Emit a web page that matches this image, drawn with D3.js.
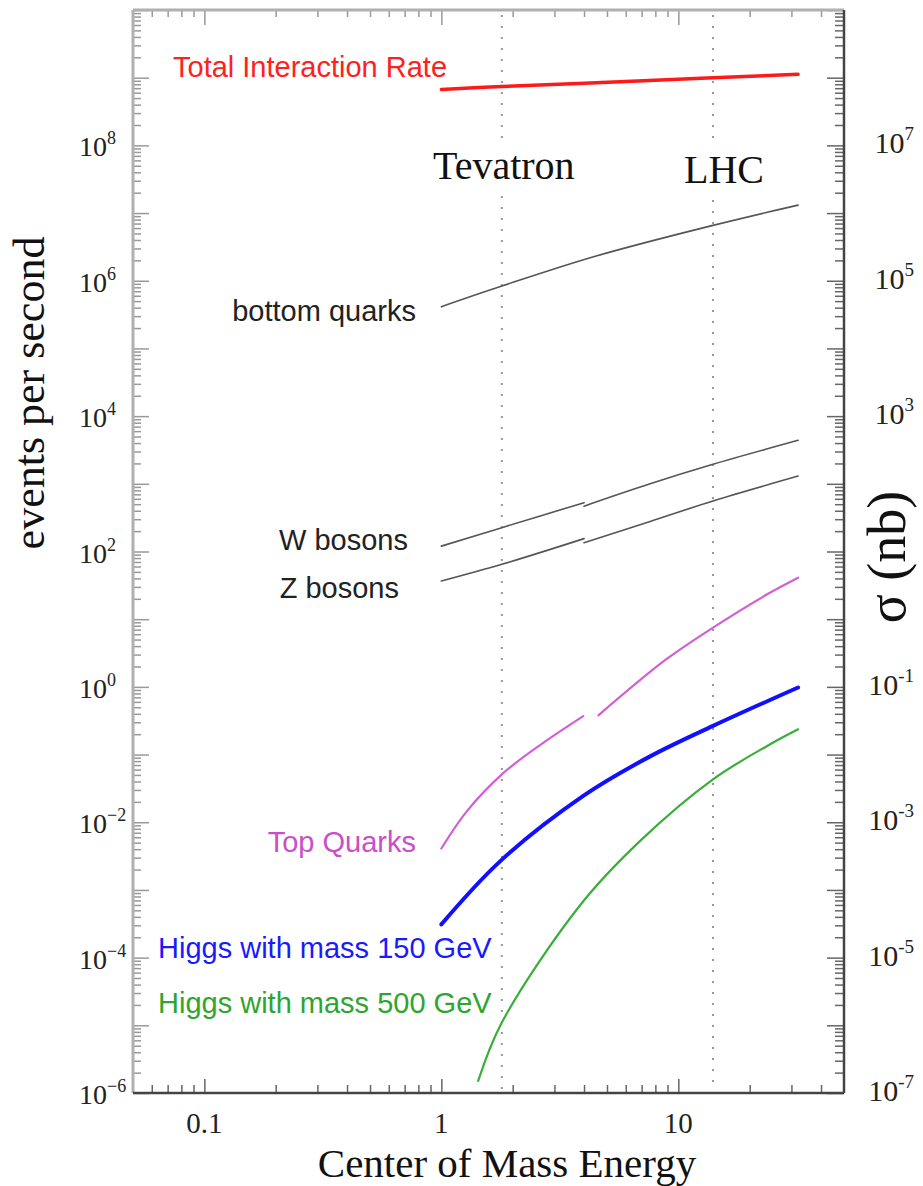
<!DOCTYPE html>
<html>
<head>
<meta charset="utf-8">
<script src="https://cdn.jsdelivr.net/npm/d3@7"></script>
<style>
  body { margin: 0; background: #fff; }
  svg { display: block; }
  .serif { font-family: "Liberation Serif", "Times New Roman", serif; }
  .sans { font-family: "Liberation Sans", Arial, sans-serif; }
</style>
</head>
<body>
<svg id="chart" width="923" height="1186"></svg>
<script>
'use strict';

// energies in TeV, rates in events per second
const totalE = [1, 1.8, 4, 14, 32];
const totalRate = [6.7e8, 7.4e8, 8.3e8, 1.0e9, 1.12e9];

const bottomE = [1, 1.8, 4.5, 14, 32];
const bottomRate = [4.14e5, 8.35e5, 2.32e6, 6.58e6, 1.31e7];

const wLowE = [1, 1.8, 4];
const wLowRate = [120, 225, 527];
const wHighE = [4, 7.6, 14, 32];
const wHighRate = [468, 1000, 1940, 4390];

const zLowE = [1, 1.8, 4];
const zLowRate = [36.6, 64.7, 155];
const zHighE = [4, 7.6, 14, 32];
const zHighRate = [135, 278, 557, 1300];

const topLowE = [1, 1.28, 1.8, 2.6, 3.97];
const topLowRate = [4.1e-3, 0.0145, 0.051, 0.137, 0.37];
const topHighE = [4.6, 8.9, 14, 23.7, 32];
const topHighRate = [0.38, 2.56, 7.5, 23.3, 41];

const higgs150E = [1, 1.76, 3.97, 7.6, 14, 32];
const higgs150Rate = [3.1e-4, 2.6e-3, 0.0245, 0.094, 0.265, 0.98];

const higgs500E = [1.43, 1.8, 3.85, 6.9, 14, 23.7, 32];
const higgs500Rate = [1.51e-6, 1.1e-5, 5.94e-4, 5.3e-3, 0.043, 0.134, 0.236];

const machines = ['Tevatron', 'LHC'];
const machineE = [1.8, 14];

const xTickLabels = ['0.1', '1', '10'];
const xTickValues = [0.1, 1, 10];
const leftExponents = [8, 6, 4, 2, 0, -2, -4, -6];
const rightExponents = [7, 5, 3, -1, -3, -5, -7];

const svg = d3.select('#chart');
const plotLeft = 133, plotRight = 844, plotTop = 10, plotBottom = 1093;

const x = d3.scaleLog().domain([0.05, 50]).range([plotLeft, plotRight]);
const y = d3.scaleLog().domain([1e-6, 1e10]).range([plotBottom, plotTop]);
const ySigma = d3.scaleLog().domain([1e-7, 1e9]).range([plotBottom, plotTop]); // nb

// tick values: every decade plus 2..9
function logTicks(lo, hi) {
  const major = [], minor = [];
  for (let d = lo; d <= hi; d++) {
    major.push(Math.pow(10, d));
    if (d < hi) for (let k = 2; k <= 9; k++) minor.push(k * Math.pow(10, d));
  }
  return { major, minor };
}
const yt = logTicks(-6, 10), st = logTicks(-7, 9);
const xMinor = [0.06, 0.07, 0.08, 0.09]
  .concat(logTicks(-1, 1).minor, [20, 30, 40]);

function addAxis(axis, transform, color) {
  const g = svg.append('g').attr('transform', transform).call(axis);
  g.select('.domain').remove();
  g.selectAll('line').attr('stroke', color).attr('stroke-width', 1.5);
  g.selectAll('text').remove();
}
// left (ticks inward)
addAxis(d3.axisRight(y).tickValues(yt.major).tickSize(16), `translate(${plotLeft},0)`, '#999');
addAxis(d3.axisRight(y).tickValues(yt.minor).tickSize(8), `translate(${plotLeft},0)`, '#999');
// right
addAxis(d3.axisLeft(ySigma).tickValues(st.major).tickSize(17), `translate(${plotRight},0)`, '#666');
addAxis(d3.axisLeft(ySigma).tickValues(st.minor).tickSize(9), `translate(${plotRight},0)`, '#666');
// bottom / top
addAxis(d3.axisTop(x).tickValues(xTickValues).tickSize(14), `translate(0,${plotBottom})`, '#666');
addAxis(d3.axisTop(x).tickValues(xMinor).tickSize(8), `translate(0,${plotBottom})`, '#666');
addAxis(d3.axisBottom(x).tickValues(xTickValues).tickSize(15), `translate(0,${plotTop})`, '#999');
addAxis(d3.axisBottom(x).tickValues(xMinor).tickSize(7), `translate(0,${plotTop})`, '#999');

// frame
svg.append('line').attr('x1', plotLeft).attr('x2', plotRight).attr('y1', plotTop).attr('y2', plotTop)
  .attr('stroke', '#b0b0b0').attr('stroke-width', 3);
svg.append('line').attr('x1', plotLeft).attr('x2', plotLeft).attr('y1', plotTop).attr('y2', plotBottom)
  .attr('stroke', '#b0b0b0').attr('stroke-width', 3);
svg.append('line').attr('x1', plotRight).attr('x2', plotRight).attr('y1', plotTop).attr('y2', plotBottom)
  .attr('stroke', '#444').attr('stroke-width', 2.5);
svg.append('line').attr('x1', plotLeft).attr('x2', plotRight).attr('y1', plotBottom).attr('y2', plotBottom)
  .attr('stroke', '#444').attr('stroke-width', 2.5);

// tick labels
svg.selectAll('.ylab').data(leftExponents).enter().append('text')
  .attr('class', 'ylab serif')
  .attr('x', 79).attr('y', d => y(Math.pow(10, d)) + 11)
  .attr('font-size', 28).attr('fill', '#222')
  .each(function (d) {
    const t = d3.select(this);
    t.append('tspan').text('10');
    t.append('tspan').attr('dy', -12).attr('font-size', 18)
      .text(String(d).replace('-', '\u2212'));
  });
svg.selectAll('.slab').data(rightExponents).enter().append('text')
  .attr('class', 'slab serif')
  .attr('x', 914).attr('y', d => ySigma(Math.pow(10, d)) + 8)
  .attr('text-anchor', 'end')
  .attr('font-size', 30).attr('fill', '#222')
  .each(function (d) {
    const t = d3.select(this);
    t.append('tspan').text('10');
    t.append('tspan').attr('dy', -13).attr('font-size', 19).text(String(d));
  });
svg.selectAll('.xlab').data(xTickLabels).enter().append('text')
  .attr('class', 'xlab serif')
  .attr('x', (d, i) => x(xTickValues[i])).attr('y', 1133)
  .attr('text-anchor', 'middle').attr('font-size', 29).attr('fill', '#222')
  .text(d => d);

// axis titles
svg.append('text').attr('class', 'serif')
  .attr('transform', 'translate(44,393) rotate(-90)')
  .attr('text-anchor', 'middle').attr('font-size', 44).attr('fill', '#111')
  .text('events per second');
svg.append('text').attr('class', 'serif')
  .attr('transform', 'translate(905,557) rotate(-90)')
  .attr('text-anchor', 'middle').attr('font-size', 54).attr('fill', '#111')
  .text('\u03c3 (nb)');
svg.append('text').attr('class', 'serif')
  .attr('x', 507).attr('y', 1177)
  .attr('text-anchor', 'middle').attr('font-size', 41).attr('fill', '#111')
  .text('Center of Mass Energy');

// machine labels and dotted lines with a gap round the label
const machineDx = [2, 11], machineY = [179, 183];
machines.forEach((name, i) => {
  const xm = x(machineE[i]);
  const label = svg.append('text').attr('class', 'serif')
    .attr('x', xm + machineDx[i]).attr('y', machineY[i])
    .attr('text-anchor', 'middle').attr('font-size', 40).attr('fill', '#111')
    .text(name);
  const bb = label.node().getBBox();
  [[plotTop + 5, bb.y], [bb.y + bb.height + 8, plotBottom - 4]].forEach(([y1, y2]) => {
    svg.insert('line', ':first-child')
      .attr('x1', xm).attr('x2', xm).attr('y1', y1).attr('y2', y2)
      .attr('stroke', '#999').attr('stroke-width', 2)
      .attr('stroke-dasharray', '2,9');
  });
});

// curves
const line = d3.line()
  .x(d => x(d[0]))
  .y(d => y(d[1]))
  .curve(d3.curveCatmullRom.alpha(0.5));
const zip = (a, b) => a.map((v, i) => [v, b[i]]);

const curves = [
  { e: totalE, r: totalRate, color: '#ff1a1a', w: 3.5 },
  { e: bottomE, r: bottomRate, color: '#555', w: 1.6 },
  { e: wLowE, r: wLowRate, color: '#555', w: 1.6 },
  { e: wHighE, r: wHighRate, color: '#555', w: 1.6 },
  { e: zLowE, r: zLowRate, color: '#555', w: 1.6 },
  { e: zHighE, r: zHighRate, color: '#555', w: 1.6 },
  { e: topLowE, r: topLowRate, color: '#d35fd3', w: 2.2 },
  { e: topHighE, r: topHighRate, color: '#d35fd3', w: 2.2 },
  { e: higgs150E, r: higgs150Rate, color: '#1010ff', w: 4 },
  { e: higgs500E, r: higgs500Rate, color: '#3aae3a', w: 2.2 }
];
svg.selectAll('.curve').data(curves).enter().append('path')
  .attr('class', 'curve')
  .attr('d', c => line(zip(c.e, c.r)))
  .attr('fill', 'none')
  .attr('stroke', c => c.color)
  .attr('stroke-width', c => c.w)
  .attr('stroke-linecap', 'round');

// curve labels
const labels = [
  { text: 'Total Interaction Rate', color: '#ff2020', x: 173, y: 77, anchor: 'start' },
  { text: 'bottom quarks', color: '#222', x: 416, y: 321, anchor: 'end' },
  { text: 'W bosons', color: '#222', x: 408, y: 550, anchor: 'end' },
  { text: 'Z bosons', color: '#222', x: 399, y: 598, anchor: 'end' },
  { text: 'Top Quarks', color: '#c94fc9', x: 416, y: 852, anchor: 'end' },
  { text: 'Higgs with mass 150 GeV', color: '#1a1aff', x: 158, y: 958, anchor: 'start' },
  { text: 'Higgs with mass 500 GeV', color: '#2ea52e', x: 158, y: 1013, anchor: 'start' }
];
svg.selectAll('.clab').data(labels).enter().append('text')
  .attr('class', 'clab sans')
  .attr('x', d => d.x).attr('y', d => d.y)
  .attr('text-anchor', d => d.anchor)
  .attr('font-size', 29)
  .attr('fill', d => d.color)
  .text(d => d.text);
</script>
</body>
</html>
